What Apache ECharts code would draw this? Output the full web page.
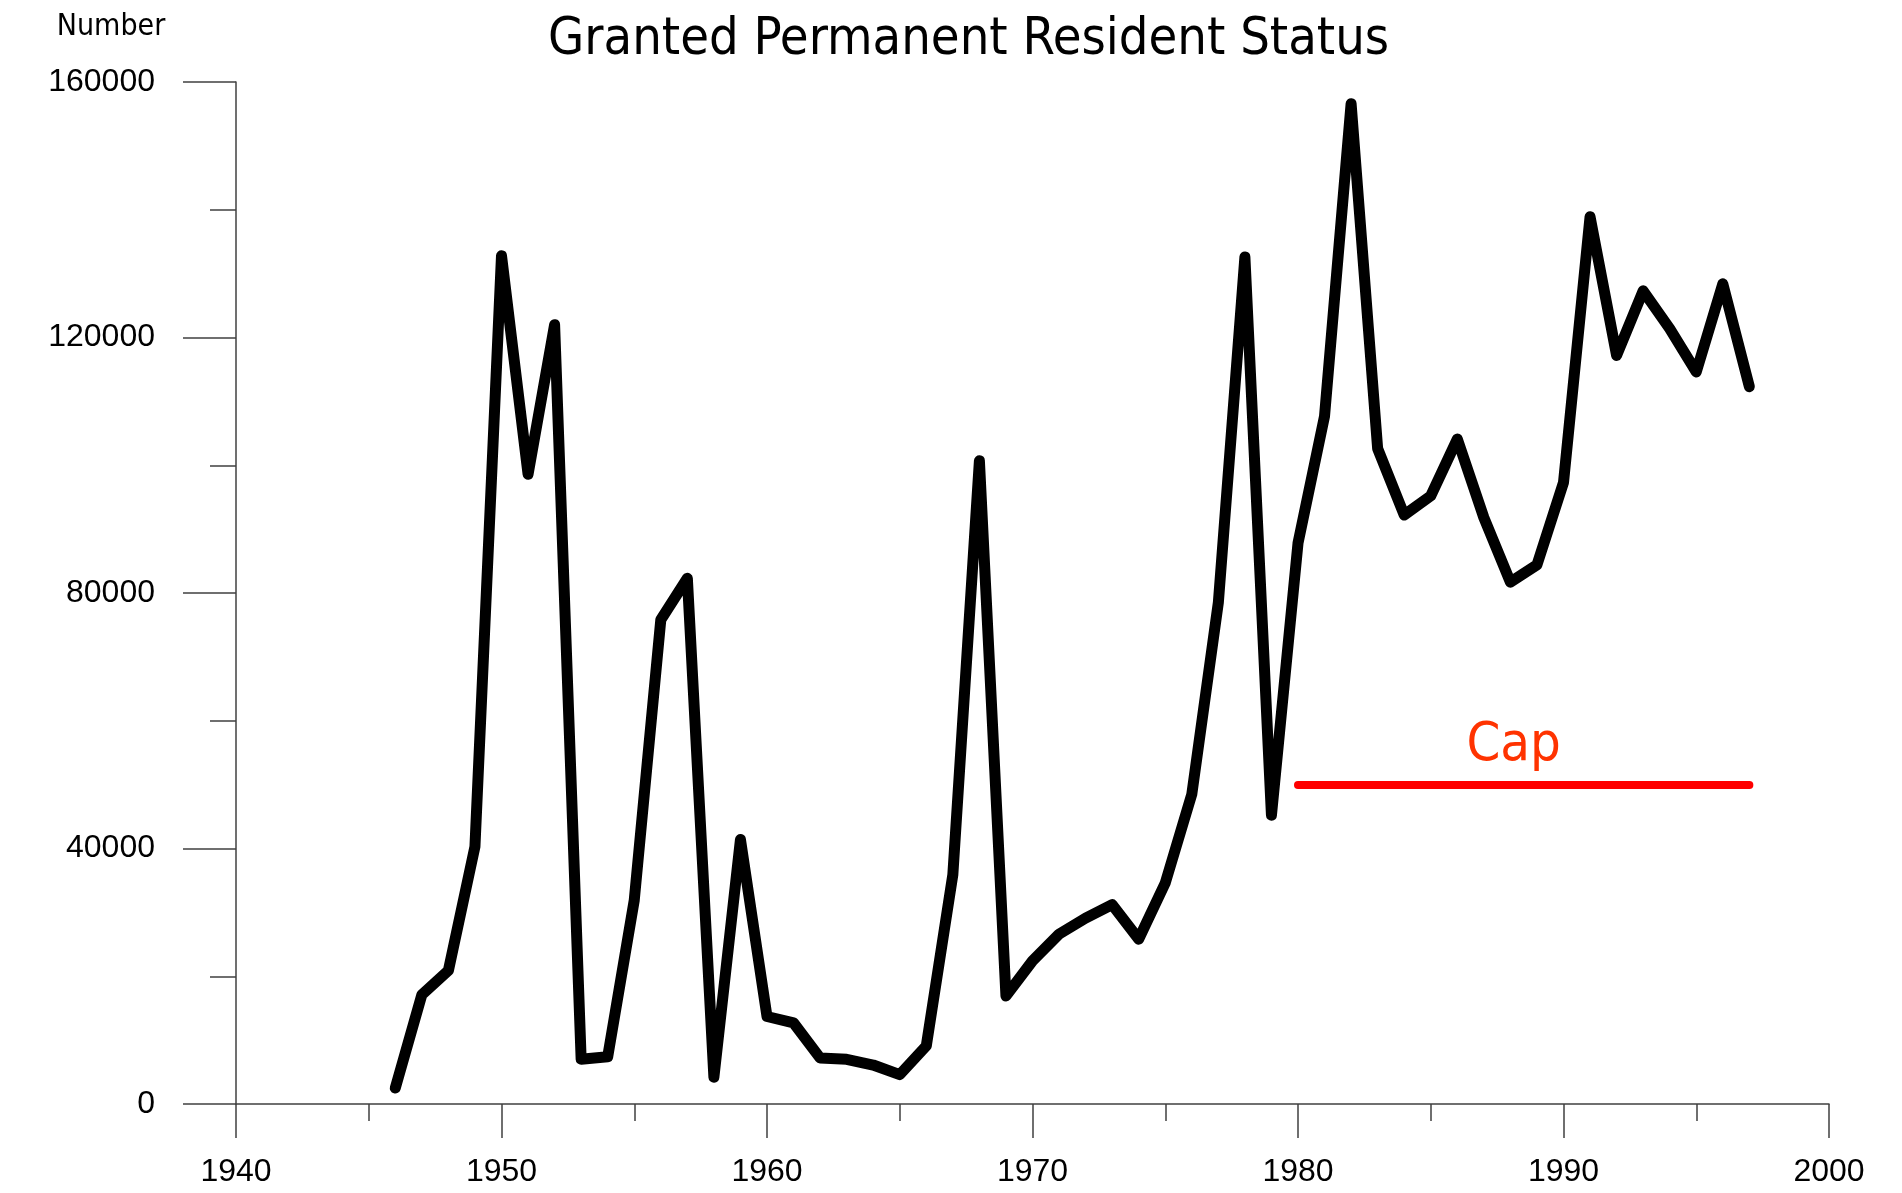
<!DOCTYPE html>
<html>
<head>
<meta charset="utf-8">
<title>Granted Permanent Resident Status</title>
<script src="https://cdn.jsdelivr.net/npm/echarts@6/dist/echarts.min.js"></script>
<style>
  html, body { margin: 0; padding: 0; background: #fff; }
  #chart { width: 1902px; height: 1193px; }
</style>
</head>
<body>
<div id="chart"></div>
<script>
// 年份
const years = [
  1946, 1947, 1948, 1949, 1950, 1951, 1952, 1953, 1954, 1955,
  1956, 1957, 1958, 1959, 1960, 1961, 1962, 1963, 1964, 1965,
  1966, 1967, 1968, 1969, 1970, 1971, 1972, 1973, 1974, 1975,
  1976, 1977, 1978, 1979, 1980, 1981, 1982, 1983, 1984, 1985,
  1986, 1987, 1988, 1989, 1990, 1991, 1992, 1993, 1994, 1995,
  1996, 1997
];
// 每年人数
const granted = [
  2500, 17100, 20900, 40300, 132800, 98600, 122000, 7000, 7400, 31900,
  75800, 82300, 4200, 41400, 13700, 12700, 7200, 7000, 6100, 4600,
  9100, 35900, 100700, 16900, 22400, 26600, 29100, 31200, 25800, 34600,
  48500, 78500, 132600, 45200, 87800, 107700, 156600, 102600, 92200, 95200,
  104100, 91800, 81700, 84400, 97300, 138900, 117200, 127300, 121400, 114600,
  128400, 112300
];
// 上限线
const capYears = [1980, 1997];
const capValue = 50000;

const narrow = "'Liberation Sans Narrow', 'DejaVu Sans Condensed', 'Liberation Sans', sans-serif";
const labelFont = "'Liberation Sans', Arial, sans-serif";
const axisColor = '#404040';

let chartNode = echarts.init(document.getElementById('chart'));

let option = {
    animation: false,
    title: {
        text: 'Granted Permanent Resident Status',
        left: 548,
        top: 14,
        padding: 0,
        textStyle: {
            fontFamily: narrow,
            fontWeight: 'normal',
            fontSize: 52,
            color: '#000'
        }
    },
    grid: {
        left: 236,
        right: 73,
        top: 82,
        bottom: 89
    },
    xAxis: {
        type: 'value',
        min: 1940,
        max: 2000,
        interval: 10,
        splitLine: { show: false },
        axisLine: { lineStyle: { color: axisColor, width: 1.5 } },
        axisTick: { length: 34, lineStyle: { color: axisColor, width: 1.5 } },
        minorTick: { show: true, splitNumber: 2, length: 17, lineStyle: { color: axisColor, width: 1.5 } },
        axisLabel: {
            margin: 52,
            color: '#000',
            fontFamily: labelFont,
            fontSize: 32,
            formatter: (v) => String(v)
        }
    },
    yAxis: {
        type: 'value',
        min: 0,
        max: 160000,
        interval: 40000,
        name: 'Number',
        nameLocation: 'end',
        nameGap: 40,
        nameTextStyle: {
            fontFamily: narrow,
            fontSize: 30,
            color: '#000',
            align: 'center',
            padding: [0, 250, 0, 0]
        },
        splitLine: { show: false },
        axisLine: { show: true, lineStyle: { color: axisColor, width: 1.5 } },
        axisTick: { show: true, length: 53, lineStyle: { color: axisColor, width: 1.5 } },
        minorTick: { show: true, splitNumber: 2, length: 26, lineStyle: { color: axisColor, width: 1.5 } },
        axisLabel: {
            margin: 81,
            color: '#000',
            fontFamily: labelFont,
            fontSize: 32,
            formatter: (v) => String(v)
        }
    },
    series: [
        {
            name: 'Granted',
            type: 'line',
            showSymbol: false,
            data: years.map((y, i) => [y, granted[i]]),
            lineStyle: {
                color: '#000',
                width: 11,
                cap: 'round',
                join: 'round'
            },
            markLine: {
                silent: true,
                symbol: ['none', 'none'],
                lineStyle: {
                    color: '#ff0000',
                    width: 8,
                    type: 'solid',
                    cap: 'round'
                },
                label: {
                    show: true,
                    position: 'middle',
                    formatter: 'Cap',
                    color: '#ff3300',
                    fontFamily: narrow,
                    fontSize: 54,
                    distance: 12,
                    padding: [0, 20, 0, 0]
                },
                data: [
                    [
                        { coord: [capYears[0], capValue] },
                        { coord: [capYears[1], capValue] }
                    ]
                ]
            }
        }
    ]
};

chartNode.setOption(option);
</script>
</body>
</html>
